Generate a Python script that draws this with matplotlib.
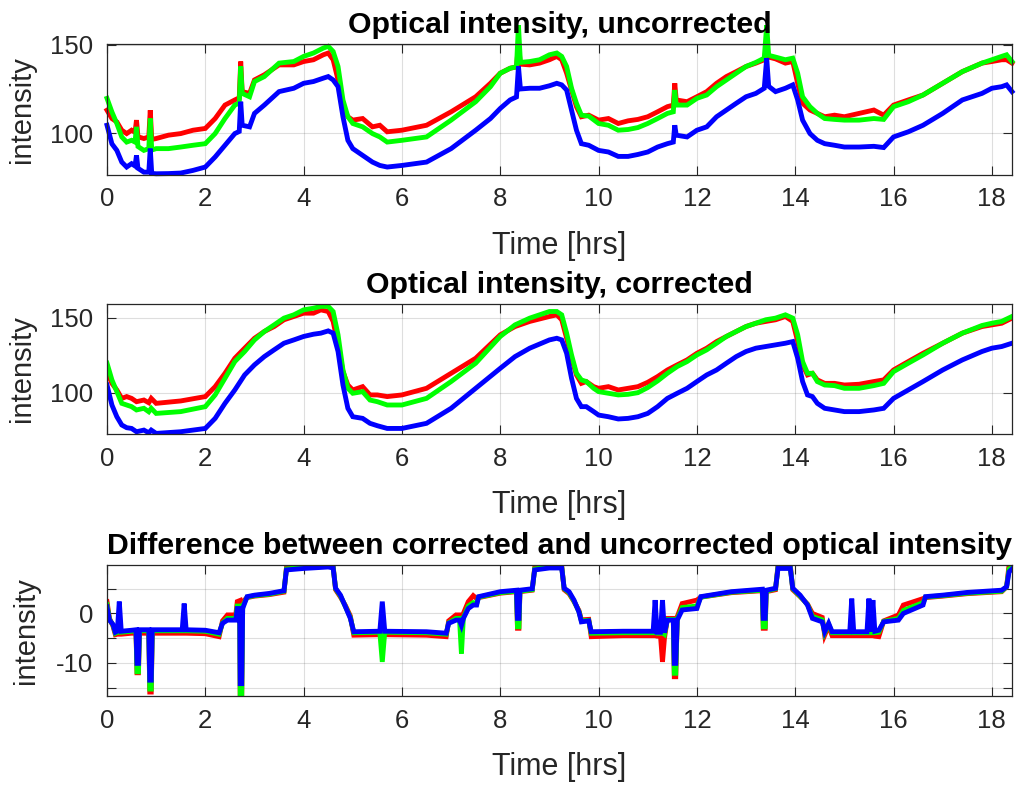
"""Optical intensity before/after correction, three stacked panels."""

import matplotlib

matplotlib.use("Agg")
import matplotlib.pyplot as plt

plt.rcParams["font.family"] = ["Liberation Sans", "DejaVu Sans"]

# --- uncorrected intensity (top panel) ---
t_unc = [0.00, 0.10, 0.20, 0.30, 0.40, 0.50, 0.57, 0.60, 0.63, 0.75, 0.85, 0.88, 0.91, 1.00, 1.25,
         1.50, 1.75, 2.00, 2.20, 2.40, 2.60, 2.69, 2.72, 2.75, 2.90, 3.00, 3.20, 3.50, 3.80, 4.00,
         4.20, 4.40, 4.50, 4.60, 4.70, 4.80, 4.90, 5.00, 5.20, 5.40, 5.55, 5.70, 6.00, 6.50, 7.00,
         7.50, 7.80, 8.00, 8.20, 8.33, 8.37, 8.41, 8.60, 8.80, 9.00, 9.15, 9.25, 9.35, 9.45, 9.55,
         9.65, 9.80, 10.00, 10.20, 10.40, 10.60, 10.80, 11.00, 11.20, 11.40, 11.52, 11.55, 11.58, 11.80, 12.00,
         12.20, 12.40, 12.60, 12.80, 13.00, 13.20, 13.37, 13.42, 13.46, 13.60, 13.80, 13.95, 14.05, 14.15, 14.30,
         14.45, 14.60, 14.80, 15.00, 15.30, 15.60, 15.80, 16.00, 16.30, 16.60, 17.00, 17.40, 17.80, 18.00, 18.20,
         18.30, 18.41]
unc_red = [113.0, 108.3, 106.4, 101.7, 99.8, 101.7, 100.5, 107.4, 98.0, 97.0, 97.9, 113.0, 96.5, 97.0, 98.9,
           99.8, 101.7, 102.7, 108.3, 115.9, 118.8, 120.0, 140.5, 123.5, 122.5, 130.1, 133.0, 138.6, 138.6, 140.5,
           141.5, 144.3, 145.3, 141.5, 130.1, 115.0, 109.3, 107.4, 108.3, 103.6, 104.5, 100.8, 101.7, 104.5, 112.1,
           120.6, 128.2, 133.9, 136.7, 137.5, 150.0, 139.0, 138.6, 139.6, 141.5, 143.4, 141.5, 133.9, 124.4, 115.0,
           109.3, 110.2, 107.4, 108.3, 105.5, 107.0, 107.8, 109.3, 112.1, 115.0, 115.9, 128.2, 118.8, 117.8, 120.6,
           123.5, 128.2, 132.0, 134.8, 137.7, 139.6, 141.5, 150.0, 143.0, 142.0, 139.6, 140.5, 128.2, 116.9, 113.1,
           111.2, 109.3, 110.2, 109.3, 111.2, 113.1, 110.2, 115.9, 118.8, 121.6, 128.2, 134.8, 139.6, 140.5, 141.5,
           141.5, 139.6]
unc_green = [119.7, 112.0, 105.5, 97.9, 95.0, 96.0, 95.0, 103.6, 92.5, 90.3, 91.3, 108.3, 90.5, 91.3, 91.3,
             92.2, 93.2, 94.1, 99.8, 108.3, 115.9, 117.0, 137.7, 122.5, 120.6, 129.2, 132.0, 139.6, 140.5, 143.4,
             145.3, 148.1, 149.1, 146.2, 137.7, 118.8, 109.3, 105.5, 103.6, 99.8, 97.9, 95.0, 96.0, 97.9, 107.4,
             117.8, 126.3, 133.9, 136.7, 137.5, 161.0, 140.0, 140.5, 141.5, 144.3, 145.3, 143.4, 137.7, 125.4, 116.9,
             110.2, 109.7, 105.5, 104.5, 101.7, 102.1, 103.2, 105.5, 108.3, 111.2, 112.1, 124.4, 115.9, 115.9, 119.7,
             121.6, 126.3, 130.1, 133.9, 137.7, 140.0, 142.4, 161.0, 144.0, 143.0, 141.5, 142.4, 133.9, 120.6, 115.0,
             111.2, 108.3, 107.8, 107.4, 107.4, 108.3, 107.8, 115.0, 117.8, 121.6, 128.2, 134.8, 139.6, 141.5, 143.4,
             144.3, 140.5]
unc_blue = [104.5, 94.0, 90.3, 83.7, 80.9, 82.8, 81.5, 87.5, 80.2, 78.0, 78.0, 91.3, 77.3, 77.1, 77.2,
            77.5, 79.0, 80.9, 86.6, 93.2, 99.8, 101.0, 117.8, 104.5, 103.6, 111.2, 115.9, 123.5, 125.4, 128.2,
            129.2, 131.1, 132.0, 130.1, 126.3, 109.3, 96.0, 91.3, 87.5, 83.7, 81.8, 80.9, 81.8, 83.7, 91.3,
            101.7, 108.3, 114.0, 118.8, 120.5, 137.7, 125.0, 125.4, 125.4, 126.8, 128.2, 127.3, 124.4, 113.0, 101.7,
            94.1, 93.2, 90.3, 89.4, 86.9, 86.9, 88.0, 89.4, 92.2, 94.1, 95.0, 104.5, 98.9, 97.9, 101.7,
            103.6, 109.3, 113.1, 116.9, 120.6, 122.5, 125.4, 142.4, 126.5, 123.5, 125.4, 127.3, 118.8, 107.4, 99.8,
            96.0, 94.1, 93.2, 92.2, 92.2, 92.6, 91.9, 97.9, 100.8, 104.5, 111.2, 118.8, 122.5, 125.4, 126.3,
            127.3, 123.5]

# --- corrected intensity (middle panel) ---
t_cor = [0.00, 0.10, 0.20, 0.30, 0.40, 0.50, 0.60, 0.75, 0.85, 0.90, 1.00, 1.50, 2.00, 2.20, 2.40,
         2.60, 2.80, 3.00, 3.20, 3.40, 3.60, 3.80, 4.00, 4.20, 4.35, 4.50, 4.60, 4.70, 4.80, 4.90,
         5.00, 5.20, 5.35, 5.50, 5.70, 6.00, 6.50, 7.00, 7.50, 8.00, 8.30, 8.60, 9.00, 9.15, 9.25,
         9.35, 9.45, 9.55, 9.65, 9.75, 9.90, 10.00, 10.20, 10.40, 10.60, 10.80, 11.00, 11.20, 11.40, 11.60,
         11.80, 12.00, 12.20, 12.40, 12.60, 12.80, 13.00, 13.20, 13.40, 13.60, 13.80, 13.95, 14.05, 14.15, 14.25,
         14.35, 14.45, 14.60, 14.80, 15.00, 15.30, 15.60, 15.80, 16.00, 16.30, 16.60, 17.00, 17.40, 17.80, 18.00,
         18.20, 18.41]
cor_red = [114.2, 106.4, 102.0, 96.4, 97.6, 96.4, 94.2, 95.3, 93.5, 96.4, 93.1, 94.7, 97.6, 104.2, 113.1,
           123.1, 129.8, 136.4, 140.9, 144.2, 148.7, 150.9, 153.1, 153.1, 155.3, 154.2, 147.6, 132.0, 114.2, 105.3,
           102.0, 104.2, 98.7, 98.7, 97.6, 98.7, 103.1, 113.1, 123.1, 138.7, 144.2, 147.6, 150.9, 152.0, 148.7,
           136.4, 123.1, 112.0, 106.4, 107.6, 104.2, 103.1, 104.2, 102.0, 103.1, 104.2, 107.1, 110.9, 115.3, 118.7,
           122.0, 126.4, 129.8, 134.2, 137.6, 140.9, 144.2, 146.4, 147.6, 148.7, 150.9, 147.6, 134.2, 118.7, 112.0,
           113.1, 108.7, 106.4, 106.4, 105.3, 105.8, 107.6, 108.7, 115.3, 120.9, 126.4, 133.1, 139.8, 144.2, 145.3,
           146.4, 149.8]
cor_green = [119.8, 108.7, 100.9, 93.1, 92.0, 90.9, 88.7, 89.8, 87.5, 89.8, 86.4, 87.6, 90.9, 98.7, 109.8,
             120.9, 127.6, 135.3, 140.9, 145.3, 149.8, 152.0, 155.3, 156.4, 157.6, 157.6, 154.2, 138.7, 115.3, 103.1,
             99.8, 100.9, 95.3, 94.2, 92.0, 92.0, 96.4, 107.6, 119.8, 137.6, 145.3, 149.8, 154.2, 154.2, 152.0,
             139.8, 125.3, 113.1, 108.7, 107.6, 103.1, 100.9, 99.8, 98.7, 99.1, 100.2, 103.6, 108.0, 113.1, 117.6,
             120.9, 125.3, 128.7, 133.1, 137.6, 140.9, 144.2, 146.4, 148.7, 149.8, 152.0, 149.8, 138.7, 120.9, 113.1,
             113.1, 107.6, 105.3, 104.9, 103.1, 103.1, 104.9, 106.4, 114.2, 119.8, 125.3, 133.1, 139.8, 144.9, 146.4,
             147.6, 150.9]
cor_blue = [105.3, 92.0, 84.2, 78.7, 76.9, 76.4, 74.2, 75.3, 73.5, 75.3, 73.1, 74.2, 76.4, 83.1, 93.1,
            102.0, 112.0, 118.7, 124.2, 128.7, 133.1, 135.3, 137.6, 139.1, 139.8, 141.3, 139.8, 127.6, 105.3, 89.8,
            84.2, 83.1, 79.8, 78.2, 76.4, 76.4, 79.8, 89.8, 103.1, 116.4, 124.2, 129.8, 135.3, 136.4, 135.3,
            126.4, 109.8, 96.4, 90.9, 90.9, 87.6, 85.3, 84.2, 82.7, 83.1, 84.2, 86.4, 90.9, 96.4, 99.8,
            103.1, 107.6, 112.0, 115.3, 119.8, 124.2, 127.6, 129.8, 130.9, 132.0, 133.1, 134.2, 123.1, 107.6, 98.7,
            97.6, 93.1, 89.8, 88.7, 87.6, 87.6, 88.7, 89.8, 96.4, 102.0, 107.6, 115.3, 122.0, 127.6, 129.8,
            130.9, 133.1]

# --- difference corrected - uncorrected (bottom panel) ---
t_dif = [0.00, 0.05, 0.12, 0.17, 0.21, 0.25, 0.29, 0.50, 0.59, 0.61, 0.64, 0.66, 0.85, 0.87, 0.90,
         0.92, 1.53, 1.57, 1.61, 2.00, 2.28, 2.35, 2.45, 2.62, 2.65, 2.70, 2.71, 2.74, 2.76, 2.85,
         3.00, 3.30, 3.60, 3.65, 4.00, 4.50, 4.60, 4.65, 4.75, 4.85, 4.95, 5.02, 5.55, 5.60, 5.65,
         6.50, 6.90, 6.95, 7.10, 7.17, 7.21, 7.25, 7.35, 7.45, 7.52, 7.56, 8.00, 8.33, 8.35, 8.38,
         8.40, 8.65, 8.70, 9.00, 9.25, 9.30, 9.40, 9.50, 9.60, 9.65, 9.80, 9.85, 10.50, 11.11, 11.15,
         11.19, 11.26, 11.30, 11.34, 11.40, 11.52, 11.54, 11.57, 11.60, 11.70, 12.00, 12.08, 12.70, 13.33, 13.35,
         13.39, 13.41, 13.60, 13.65, 13.90, 13.95, 14.10, 14.25, 14.35, 14.55, 14.60, 14.68, 14.75, 15.11, 15.15,
         15.19, 15.46, 15.50, 15.54, 15.58, 15.62, 15.70, 15.80, 16.10, 16.20, 16.60, 16.65, 17.00, 17.50, 18.20,
         18.30, 18.35, 18.42]
dif_red = [2.4, -1.0, -2.5, -4.3, -4.2, -4.2, -4.2, -4.0, -4.0, -12.0, -12.0, -4.0, -4.0, -15.9, -15.9,
           -4.0, -4.0, -4.0, -4.0, -4.1, -4.7, -1.5, -0.3, -0.3, 2.4, 2.6, -17.5, -17.5, 2.4, 3.2,
           3.5, 3.8, 4.3, 9.2, 9.5, 9.8, 9.6, 4.8, 3.3, 1.6, -0.5, -4.4, -4.3, -4.3, -4.3,
           -4.4, -4.7, -1.5, -0.3, -0.3, -1.0, 0.0, 2.4, 3.6, 3.0, 3.2, 4.1, 4.4, -3.0, -3.0,
           4.4, 4.7, 9.2, 9.6, 9.6, 4.8, 4.0, 2.4, 0.6, -1.3, -1.2, -4.7, -4.5, -4.5, -4.5,
           -4.6, -4.6, -9.8, -5.0, -1.0, -1.0, -12.8, -12.8, -0.7, 2.0, 2.7, 3.3, 4.2, 4.6, -3.0,
           -3.0, 4.4, 4.8, 9.8, 9.8, 4.8, 3.4, 1.9, 0.0, -0.8, -4.4, -2.5, -4.5, -4.5, -4.5,
           -4.5, -4.5, -4.5, -4.5, -4.5, -4.6, -4.7, -1.5, -0.3, 1.7, 3.0, 3.2, 3.5, 4.0, 4.4,
           5.4, 9.8, 9.8]
dif_green = [1.8, -1.2, -2.3, -4.0, -3.8, -3.8, -3.8, -3.6, -3.5, -11.8, -11.8, -3.5, -3.5, -15.3, -15.3,
             -3.5, -3.5, -3.5, -3.5, -3.6, -4.2, -1.9, -1.0, -1.0, 1.5, 1.5, -17.5, -17.5, 1.5, 3.3,
             3.6, 3.9, 4.5, 9.0, 9.3, 9.6, 9.4, 5.0, 3.5, 1.4, -0.8, -3.9, -3.8, -9.8, -3.8,
             -3.9, -4.2, -1.9, -1.0, -1.0, -8.1, -0.8, 1.5, 2.2, 2.0, 3.3, 4.2, 4.5, -2.7, -2.7,
             4.5, 4.8, 9.0, 9.4, 9.4, 5.0, 4.2, 2.5, 0.4, -1.5, -1.4, -4.0, -3.9, -3.9, -3.9,
             -4.0, -4.0, -3.9, -4.2, -1.2, -1.2, -12.1, -12.1, -1.1, 1.2, 1.5, 3.3, 4.3, 4.7, -2.7,
             -2.7, 4.5, 5.0, 9.4, 9.4, 5.0, 3.5, 1.8, -0.6, -1.3, -3.9, -2.2, -3.9, -3.9, -3.9,
             -3.9, -3.9, -3.9, -3.9, -3.9, -3.9, -3.8, -1.6, -1.0, 0.6, 2.2, 3.3, 3.6, 4.1, 4.5,
             5.4, 9.0, 9.4]
dif_blue = [1.35, -1.35, -2.2, -3.8, -3.6, 2.4, -3.6, -3.4, -3.3, -10.1, -10.1, -3.3, -3.3, -13.5, -13.5,
            -3.3, -3.3, 2.0, -3.3, -3.4, -3.9, -2.0, -1.35, -1.35, 1.0, 1.0, -14.2, -14.2, 1.0, 3.4,
            3.7, 4.05, 4.6, 8.8, 9.1, 9.4, 9.2, 5.1, 3.7, 1.35, -1.0, -3.7, -3.6, 2.4, -3.6,
            -3.7, -4.0, -2.0, -1.35, -1.35, -2.4, -1.0, 1.0, 1.7, 1.7, 3.4, 4.4, 4.7, -1.0, -1.0,
            4.7, 5.0, 8.8, 9.2, 9.2, 5.1, 4.4, 2.7, 0.3, -1.7, -1.5, -3.7, -3.6, -3.6, 2.7,
            -3.8, -3.8, 2.7, -3.9, -1.35, -1.35, -10.1, -10.1, -1.35, 0.7, 1.0, 3.4, 4.4, 4.9, -1.0,
            -1.0, 4.7, 5.1, 9.1, 9.1, 5.1, 3.7, 1.7, -1.0, -1.7, -3.7, -2.0, -3.7, -3.7, 3.0,
            -3.7, -3.7, 3.0, -3.7, 2.7, -3.6, -3.4, -1.7, -1.35, 0.0, 1.7, 3.4, 3.7, 4.25, 4.7,
            5.4, 8.4, 9.1]

x_ticks = [0, 2, 4, 6, 8, 10, 12, 14, 16, 18]
dif_ticks = [-15, -10, -5, 0, 5]
dif_tick_labels = ["", "-10", "", "0", ""]

AX_COLOR = "#262626"
LW = 3.5


def _style(ax, title, ylim):
    ax.set_xlim(0, 18.41)
    ax.set_ylim(*ylim)
    ax.set_xticks(x_ticks)
    ax.grid(True, color=AX_COLOR, alpha=0.15, linewidth=0.8)
    ax.set_axisbelow(True)
    ax.tick_params(direction="in", top=True, right=True, length=6.5, width=0.8,
                   colors=AX_COLOR, labelsize=18.5)
    ax.tick_params(axis="x", pad=9)
    ax.tick_params(axis="y", pad=10)
    for spine in ax.spines.values():
        spine.set_color(AX_COLOR)
        spine.set_linewidth(0.9)
    ax.set_title(title, fontsize=21.8, fontweight="bold", pad=8)
    ax.set_xlabel("Time [hrs]", fontsize=22, color=AX_COLOR)
    ax.xaxis.set_label_coords(0.5, -0.43)
    ax.set_ylabel("intensity", fontsize=21, color=AX_COLOR)


def _lines(ax, t, series, clip=True):
    for vals, col in zip(series, ("r", "#00ff00", "b")):
        ax.plot(t, vals, color=col, lw=LW, clip_on=clip, solid_joinstyle="miter")


def main():
    fig = plt.figure(figsize=(10.16, 7.85), dpi=100)
    left, width = 107 / 1016, 905 / 1016
    ax1 = fig.add_axes([left, 1 - 175 / 785, width, 131 / 785])
    ax2 = fig.add_axes([left, 1 - 434 / 785, width, 130 / 785])
    ax3 = fig.add_axes([left, 1 - 696 / 785, width, 131 / 785])

    _lines(ax1, t_unc, (unc_red, unc_green, unc_blue), clip=False)
    _style(ax1, "Optical intensity, uncorrected", (76.4, 150.4))
    ax1.set_yticks([100, 150])
    ax1.yaxis.set_label_coords(-0.078, 0.5)

    _lines(ax2, t_cor, (cor_red, cor_green, cor_blue))
    _style(ax2, "Optical intensity, corrected", (72.7, 159.2))
    ax2.set_yticks([100, 150])
    ax2.yaxis.set_label_coords(-0.078, 0.5)

    _lines(ax3, t_dif, (dif_red, dif_green, dif_blue))
    _style(ax3, "Difference between corrected and uncorrected optical intensity", (-16.7, 9.8))
    ax3.set_yticks(dif_ticks)
    ax3.set_yticklabels(dif_tick_labels)
    ax3.yaxis.set_label_coords(-0.074, 0.5)

    fig.savefig("out.png", dpi=100, facecolor="white")
    plt.close(fig)


if __name__ == "__main__":
    main()
